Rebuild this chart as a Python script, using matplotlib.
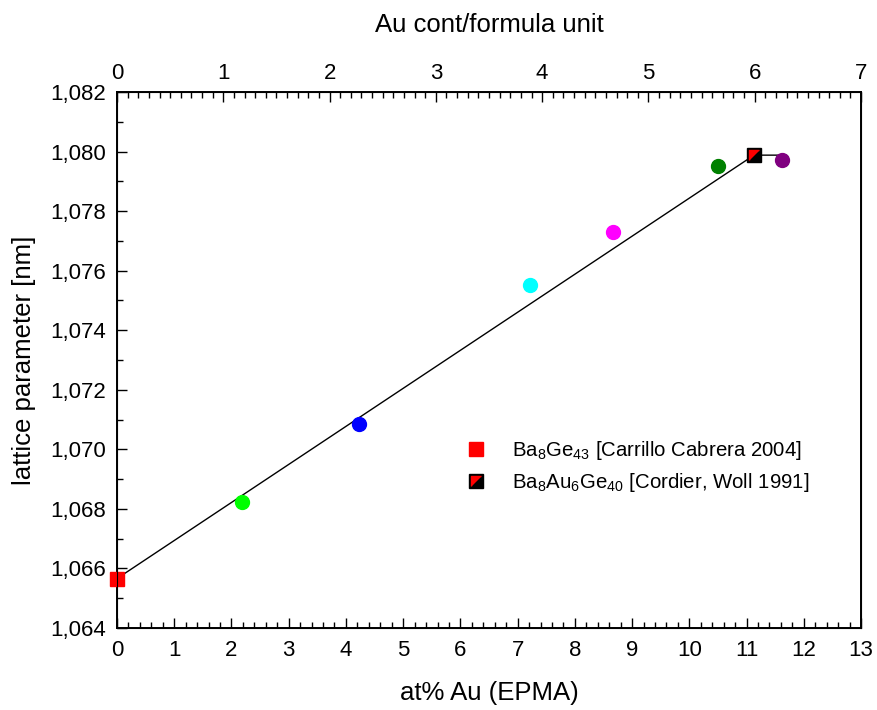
import numpy as np
import matplotlib
matplotlib.use('Agg')
import matplotlib.pyplot as plt
from matplotlib.ticker import MultipleLocator, FuncFormatter
from matplotlib.legend_handler import HandlerTuple

plt.rcParams['font.family'] = ['Liberation Sans', 'DejaVu Sans']
plt.rcParams['mathtext.fontset'] = 'custom'
plt.rcParams['mathtext.rm'] = 'Liberation Sans'
plt.rcParams['mathtext.it'] = 'Liberation Sans:italic'

# datos
x_pts = [2.18, 4.23, 7.21, 8.67, 10.50, 11.62]
y_pts = [1.06823, 1.07085, 1.07552, 1.07729, 1.07953, 1.07972]
colores = ['#00ff00', '#0000ff', '#00ffff', '#ff00ff', '#008000', '#800080']

x_ref1, y_ref1 = 0.0, 1.06566      # Ba8Ge43
x_ref2, y_ref2 = 11.13, 1.07988    # Ba8Au6Ge40

x_linea = [0.0, 11.13, 11.62]
y_linea = [1.06566, 1.07988, 1.07988]

fig = plt.figure(figsize=(8.77, 7.10), dpi=100)
ax = fig.add_axes([0.1334, 0.1155, 0.8484, 0.7549])

ax.plot(x_linea, y_linea, color='black', lw=1, zorder=2)

for x, y, c in zip(x_pts, y_pts, colores):
    ax.plot(x, y, 'o', color=c, markersize=10, zorder=3)

h1, = ax.plot(x_ref1, y_ref1, 's', color='#ff0000', markersize=9.5, zorder=4, clip_on=False)
h2a, = ax.plot(x_ref2, y_ref2, 's', color='black', markersize=9.5, zorder=4)
tri = [(-1, -1), (-1, 1), (1, 1)]
h2b, = ax.plot(x_ref2, y_ref2, marker=tri, color='#ff0000', markersize=7, lw=0, zorder=5)

ax.set_xlim(0, 13)
ax.set_ylim(1.064, 1.082)
ax.xaxis.set_major_locator(MultipleLocator(1))
ax.xaxis.set_minor_locator(MultipleLocator(0.2))
ax.yaxis.set_major_locator(MultipleLocator(0.002))
ax.yaxis.set_minor_locator(MultipleLocator(0.001))
ax.yaxis.set_major_formatter(FuncFormatter(lambda v, p: f"{v:.3f}".replace('.', ',')))
ax.tick_params(which='both', direction='in', labelsize=16, top=False, right=False)
ax.tick_params(which='major', length=7, width=1)
ax.tick_params(which='minor', length=4, width=1)
ax.tick_params(axis='x', pad=9)
ax.tick_params(axis='y', pad=8)
for s in ax.spines.values():
    s.set_linewidth(1.4)

ax.set_xlabel('at% Au (EPMA)', fontsize=18.5, labelpad=14)
ax.set_ylabel('lattice parameter [nm]', fontsize=18.5, labelpad=10)

# eje superior
ax2 = ax.twiny()
ax2.set_xlim(0, 7)
ax2.xaxis.set_major_locator(MultipleLocator(1))
ax2.xaxis.set_minor_locator(MultipleLocator(0.1))
ax2.tick_params(which='both', direction='in', labelsize=16, pad=6)
ax2.tick_params(which='major', length=7, width=1)
ax2.tick_params(which='minor', length=4, width=1)
ax2.set_xlabel('Au cont/formula unit', fontsize=18.5, labelpad=22)

ax.legend([h1, (h2a, h2b)],
          ['Ba$_8$Ge$_{43}$ [Carrillo Cabrera 2004]',
           'Ba$_8$Au$_6$Ge$_{40}$ [Cordier, Woll 1991]'],
          handler_map={tuple: HandlerTuple(ndivide=1)},
          loc='center left', bbox_to_anchor=(0.469, 0.301), frameon=False,
          fontsize=14.7, handlelength=1.0, handletextpad=1.25, borderpad=0,
          borderaxespad=0, labelspacing=0.45)

plt.savefig('out.png', dpi=100)
